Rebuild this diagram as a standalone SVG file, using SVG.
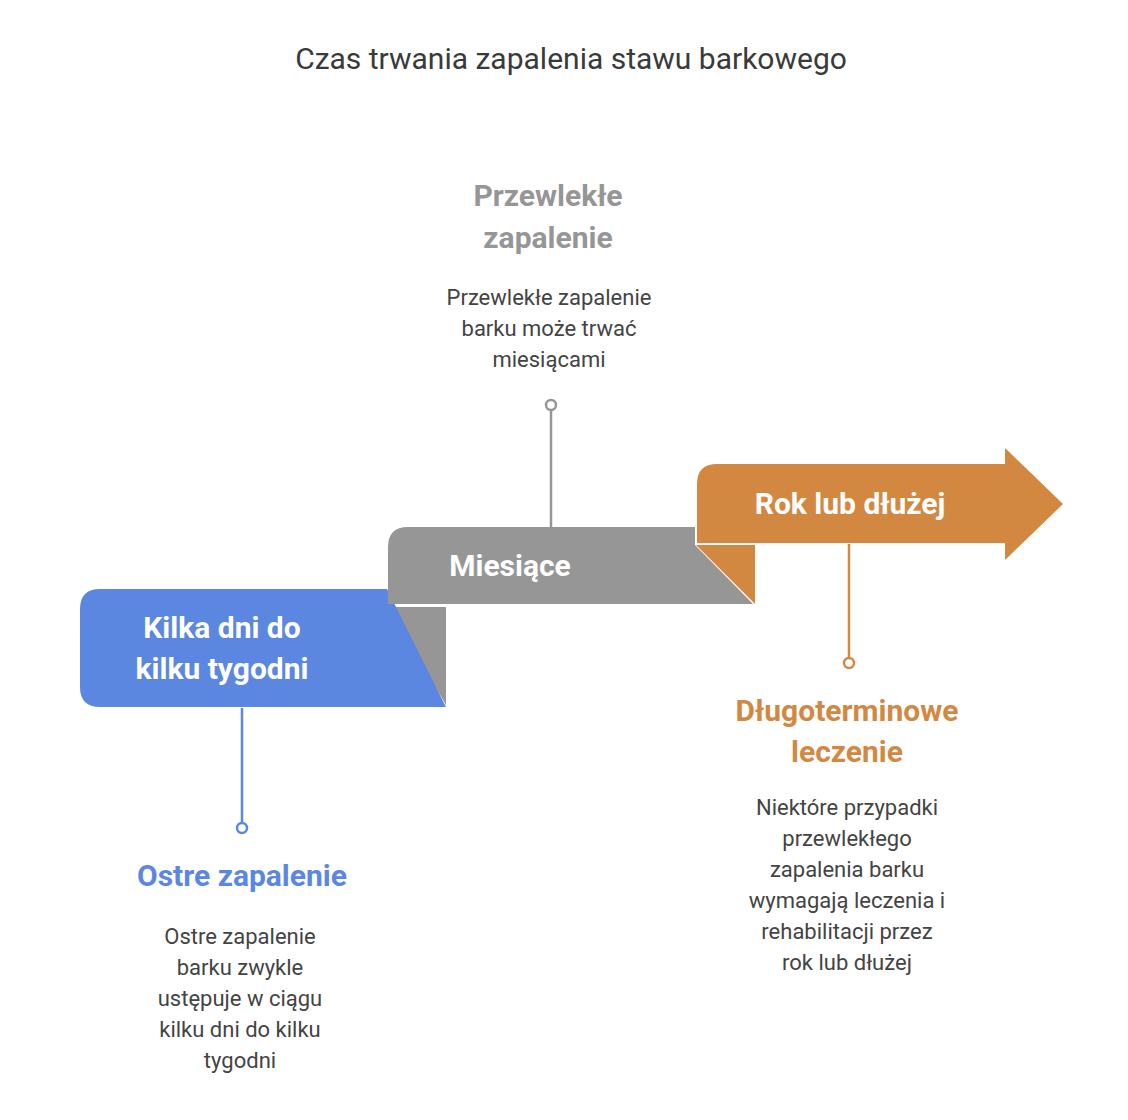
<svg xmlns="http://www.w3.org/2000/svg" width="1128" height="1120" viewBox="0 0 1128 1120">
<style>
text{font-family:Roboto,"Liberation Sans",sans-serif;text-anchor:middle}
.t{font-size:30px;fill:#3a3a3a}
.lbl{font-size:30px;font-weight:bold;fill:#fff}
.h{font-size:30px;font-weight:bold}
.d{font-size:22px;fill:#444}
.ln{stroke-width:2.5;fill:none}
</style>
<rect width="1128" height="1120" fill="#fff"/>
<text class="t" x="571" y="69">Czas trwania zapalenia stawu barkowego</text>
<g id="connectors">
<line class="ln" x1="242" y1="708" x2="242" y2="823" stroke="#5b87e0"/>
<circle cx="242" cy="828" r="5" fill="#fff" stroke="#5b87e0" stroke-width="2.5"/>
<line class="ln" x1="551" y1="410" x2="551" y2="527" stroke="#969696"/>
<circle cx="551" cy="405" r="5" fill="#fff" stroke="#969696" stroke-width="2.5"/>
<line class="ln" x1="849" y1="544" x2="849" y2="658" stroke="#d38842"/>
<circle cx="849" cy="663" r="5" fill="#fff" stroke="#d38842" stroke-width="2.5"/>
</g>
<g id="n1">
<path d="M389 607 L446 607 L446 705 Z" fill="#969696"/>
<path d="M100 589 L387 589 L446 707 L100 707 Q80 707 80 687 L80 609 Q80 589 100 589 Z" fill="#5b87e0"/>
<text class="lbl" x="222" y="638">Kilka dni do</text>
<text class="lbl" x="222" y="679">kilku tygodni</text>
<text class="h" x="242" y="886" fill="#5b87e0">Ostre zapalenie</text>
<text class="d" x="240" y="944">Ostre zapalenie</text>
<text class="d" x="240" y="975">barku zwykle</text>
<text class="d" x="240" y="1006">ustępuje w ciągu</text>
<text class="d" x="240" y="1037">kilku dni do kilku</text>
<text class="d" x="240" y="1068">tygodni</text>
</g>
<g id="n2">
<path d="M696 545 L755 545 L755 604 Z" fill="#d38842"/>
<path d="M408 527 L695 527 L695 545 L753 604 L388 604 L388 547 Q388 527 408 527 Z" fill="#969696"/>
<text class="lbl" x="510" y="576">Miesiące</text>
<text class="h" x="548" y="206" fill="#969696">Przewlekłe</text>
<text class="h" x="548" y="248" fill="#969696">zapalenie</text>
<text class="d" x="549" y="305">Przewlekłe zapalenie</text>
<text class="d" x="549" y="336">barku może trwać</text>
<text class="d" x="549" y="367">miesiącami</text>
</g>
<g id="n3">
<path d="M717 464 L1005 464 L1005 448 L1063 504 L1005 560 L1005 543 L697 543 L697 484 Q697 464 717 464 Z" fill="#d38842"/>
<text class="lbl" x="850" y="514">Rok lub dłużej</text>
<text class="h" x="847" y="721" fill="#d38842">Długoterminowe</text>
<text class="h" x="847" y="762" fill="#d38842">leczenie</text>
<text class="d" x="847" y="815">Niektóre przypadki</text>
<text class="d" x="847" y="846">przewlekłego</text>
<text class="d" x="847" y="877">zapalenia barku</text>
<text class="d" x="847" y="908">wymagają leczenia i</text>
<text class="d" x="847" y="939">rehabilitacji przez</text>
<text class="d" x="847" y="970">rok lub dłużej</text>
</g>
</svg>
